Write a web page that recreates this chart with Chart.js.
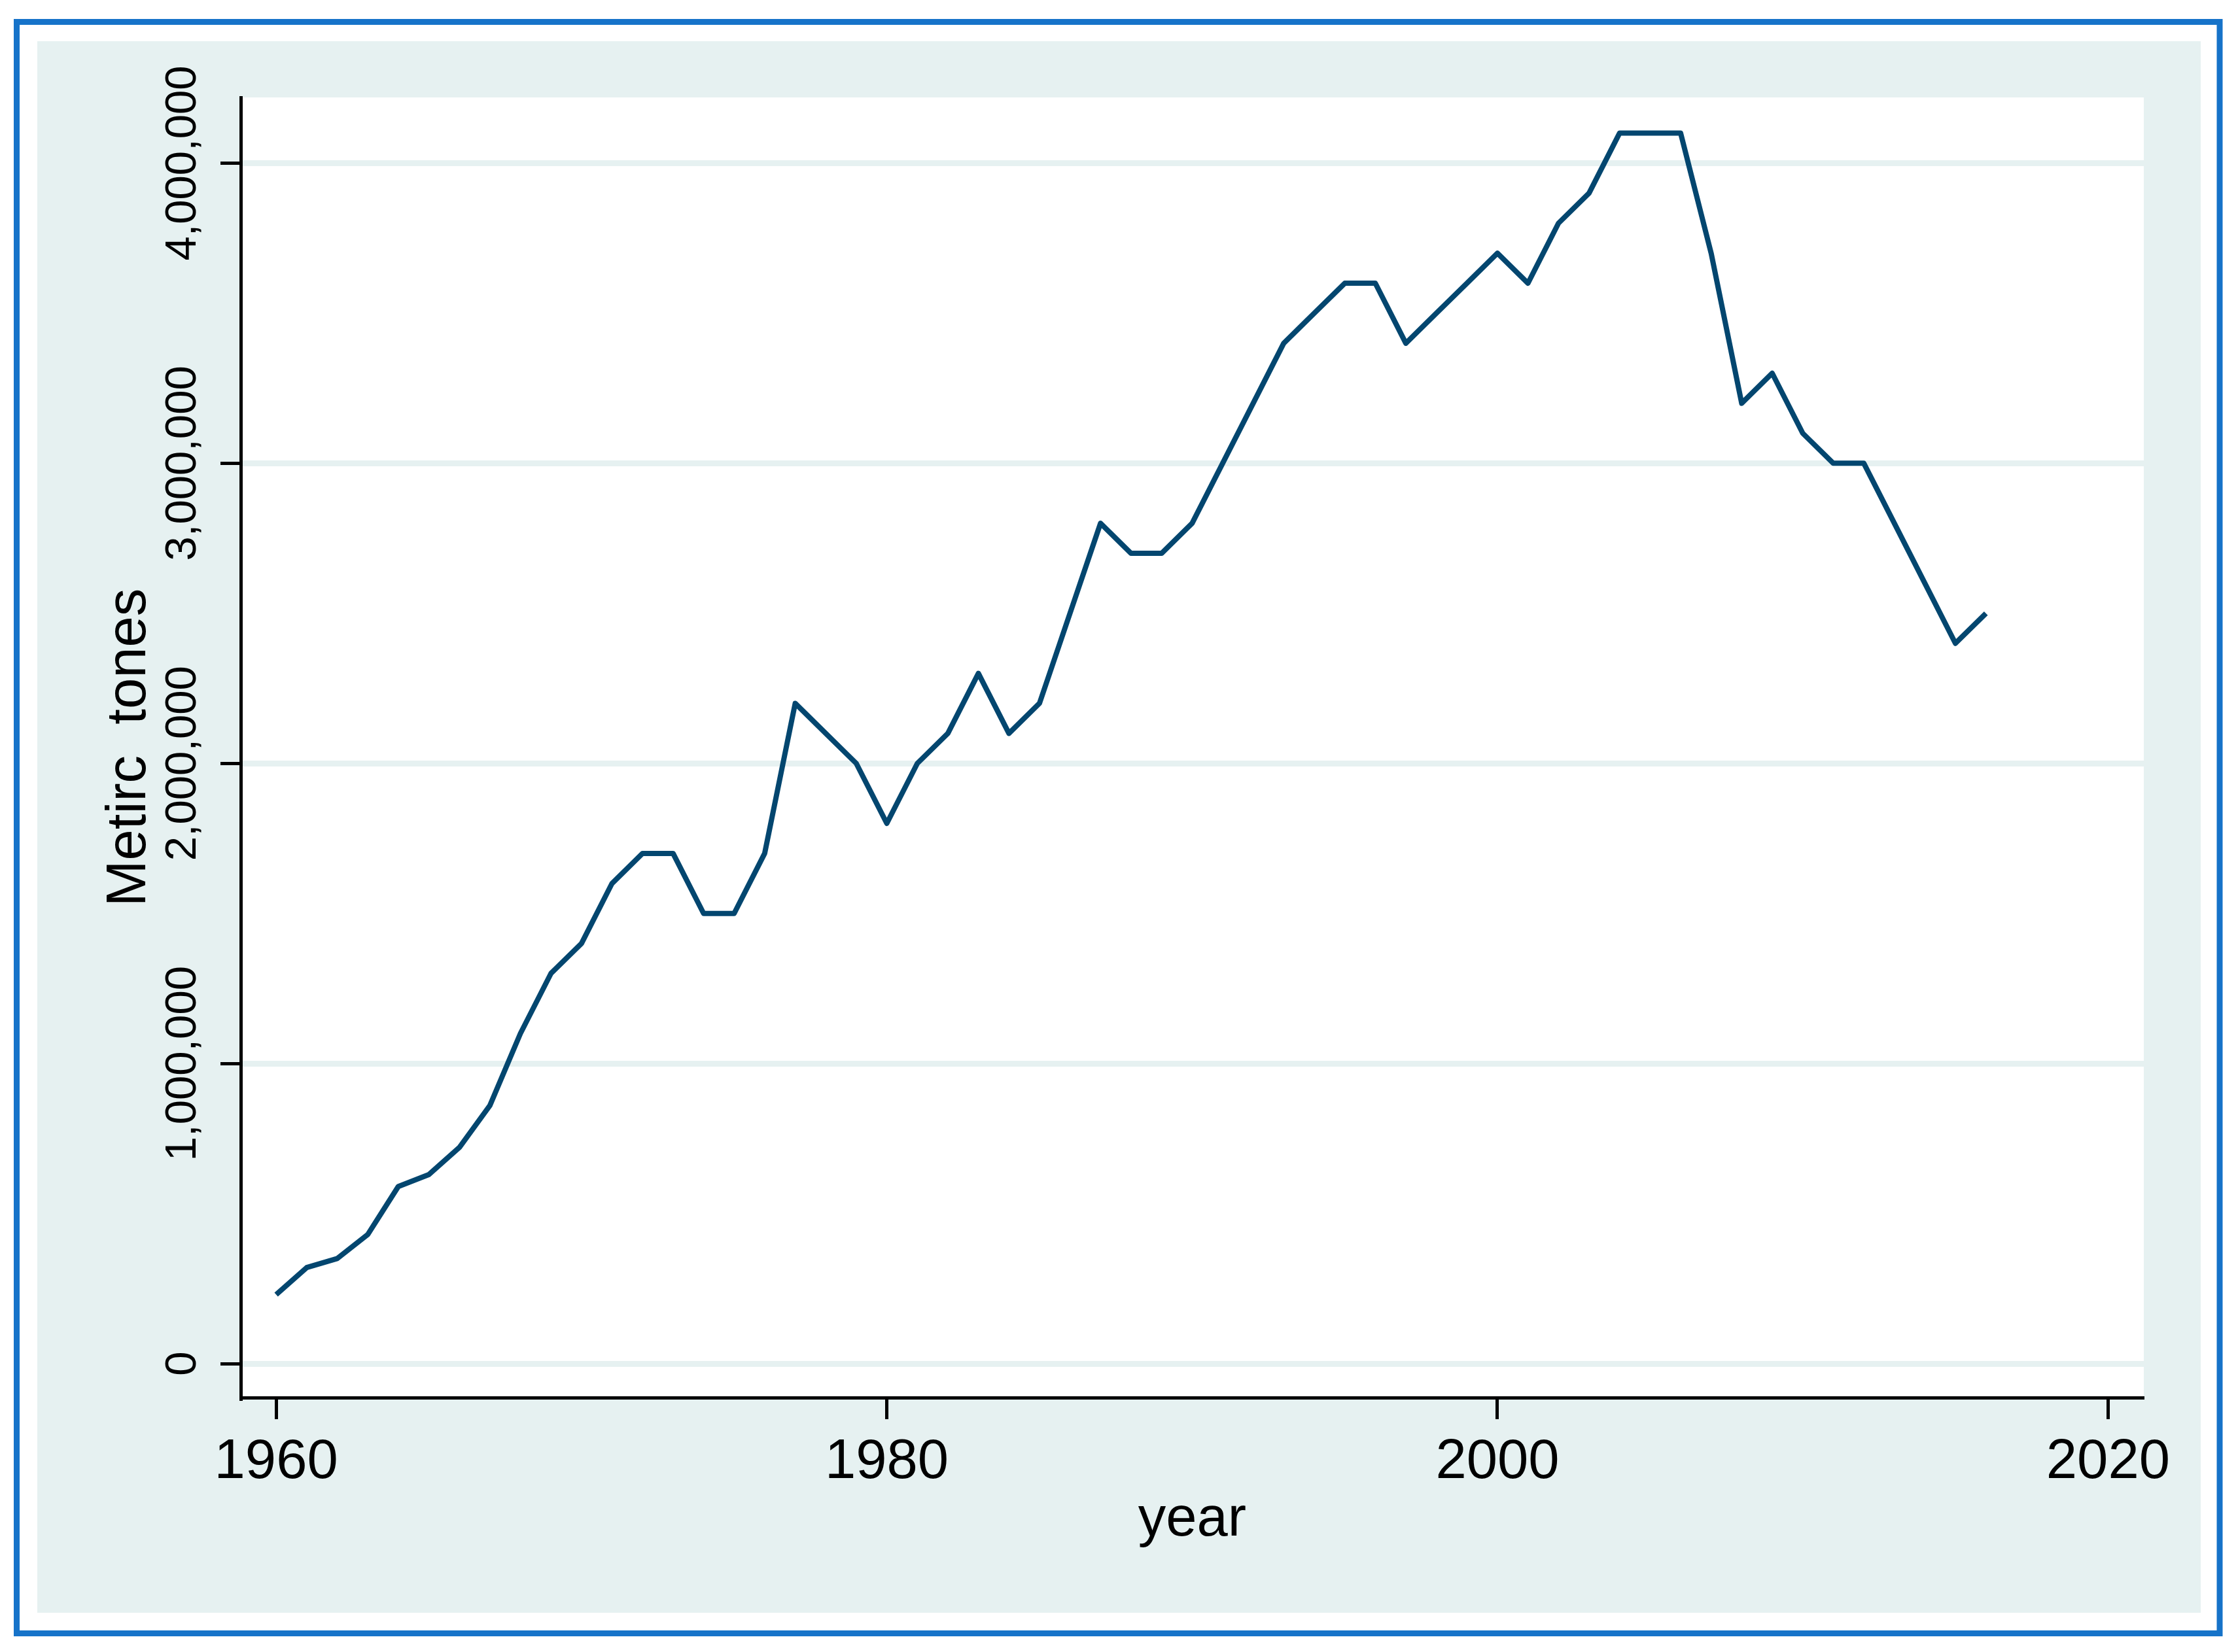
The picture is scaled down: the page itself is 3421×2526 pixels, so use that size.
<!DOCTYPE html>
<html>
<head>
<meta charset="utf-8">
<script src="https://cdn.jsdelivr.net/npm/chart.js@4.4.1/dist/chart.umd.min.js"></script>
<style>
  html, body { margin: 0; padding: 0; background: #fff; }
  canvas { display: block; }
</style>
</head>
<body>
<canvas id="grafico" width="3421" height="2526"></canvas>
<script>
// production, metric tonnes per year
const years = [
  1960, 1961, 1962, 1963, 1964, 1965, 1966, 1967, 1968, 1969,
  1970, 1971, 1972, 1973, 1974, 1975, 1976, 1977, 1978, 1979,
  1980, 1981, 1982, 1983, 1984, 1985, 1986, 1987, 1988, 1989,
  1990, 1991, 1992, 1993, 1994, 1995, 1996, 1997, 1998, 1999,
  2000, 2001, 2002, 2003, 2004, 2005, 2006, 2007, 2008, 2009,
  2010, 2011, 2012, 2013, 2014, 2015, 2016
];
const tonnes = [
  230000, 320000, 350000, 430000, 590000, 630000, 720000, 860000, 1100000, 1300000,
  1400000, 1600000, 1700000, 1700000, 1500000, 1500000, 1700000, 2200000, 2100000, 2000000,
  1800000, 2000000, 2100000, 2300000, 2100000, 2200000, 2500000, 2800000, 2700000, 2700000,
  2800000, 3000000, 3200000, 3400000, 3500000, 3600000, 3600000, 3400000, 3500000, 3600000,
  3700000, 3600000, 3800000, 3900000, 4100000, 4100000, 4100000, 3700000, 3200000, 3300000,
  3100000, 3000000, 3000000, 2800000, 2600000, 2400000, 2500000
];
const xTicks = [1960, 1980, 2000, 2020];
const yTicks = [0, 1000000, 2000000, 3000000, 4000000];

const teal = '#e6f1f1';
Chart.defaults.font.family = "'Liberation Sans', Arial, sans-serif";

// stata-like frame: blue outer border, tinted graph region, white plot region
const fondo = {
  id: 'fondo',
  beforeDraw(chart) {
    const ctx = chart.ctx;
    const a = chart.chartArea;
    ctx.save();
    ctx.fillStyle = '#ffffff';
    ctx.fillRect(0, 0, chart.width, chart.height);
    ctx.strokeStyle = '#1673c9';
    ctx.lineWidth = 9;
    ctx.strokeRect(25.5, 33.5, 3393 - 25.5, 2497.5 - 33.5);
    ctx.fillStyle = teal;
    ctx.fillRect(57, 63, 3364 - 57, 2466 - 63);
    ctx.fillStyle = '#ffffff';
    ctx.fillRect(a.left, a.top, a.right - a.left, a.bottom - a.top);
    ctx.restore();
  }
};

const ctxGrafico = document.getElementById('grafico').getContext('2d');
new Chart(ctxGrafico, {
  type: 'line',
  data: {
    datasets: [{
      label: 'Metirc  tones',
      data: years.map((y, i) => ({ x: y, y: tonnes[i] })),
      borderColor: '#03466f',
      borderWidth: 8,
      borderJoinStyle: 'round',
      pointRadius: 0,
      tension: 0,
      fill: false
    }]
  },
  options: {
    responsive: false,
    devicePixelRatio: 1,
    animation: false,
    layout: { padding: { left: 0, top: 149, right: 144, bottom: 0 } },
    plugins: {
      legend: { display: false },
      tooltip: { enabled: false }
    },
    scales: {
      x: {
        type: 'linear',
        min: 1958.84,
        max: 2021.17,
        afterFit: (s) => { s.height = 389; },
        afterBuildTicks: (s) => { s.ticks = xTicks.map(v => ({ value: v })); },
        grid: {
          drawOnChartArea: false,
          drawTicks: true,
          tickLength: 33,
          tickWidth: 5,
          tickColor: '#000',
          color: '#000'
        },
        border: { display: true, color: '#000', width: 5 },
        ticks: {
          autoSkip: false,
          minRotation: 0,
          maxRotation: 0,
          padding: 16,
          color: '#000',
          font: { size: 85 },
          callback: (v) => String(v)
        },
        title: {
          display: true,
          text: 'year',
          color: '#000',
          font: { size: 85 },
          padding: { top: 0, bottom: 150 }
        }
      },
      y: {
        type: 'linear',
        min: -113300,
        max: 4219000,
        afterFit: (s) => { s.width = 368; },
        afterBuildTicks: (s) => { s.ticks = yTicks.map(v => ({ value: v })); },
        grid: {
          drawOnChartArea: true,
          drawTicks: true,
          tickLength: 31,
          tickWidth: 5,
          tickColor: '#000',
          color: teal,
          lineWidth: 9
        },
        border: { display: true, color: '#000', width: 5 },
        ticks: {
          autoSkip: false,
          minRotation: 90,
          maxRotation: 90,
          crossAlign: 'center',
          padding: -93,
          color: '#000',
          font: { size: 67 },
          callback: (v) => Number(v).toLocaleString('en-US')
        },
        title: {
          display: true,
          text: 'Metirc  tones',
          color: '#000',
          font: { size: 85 },
          padding: { top: 148, bottom: 0 }
        }
      }
    }
  },
  plugins: [fondo]
});
</script>
</body>
</html>
